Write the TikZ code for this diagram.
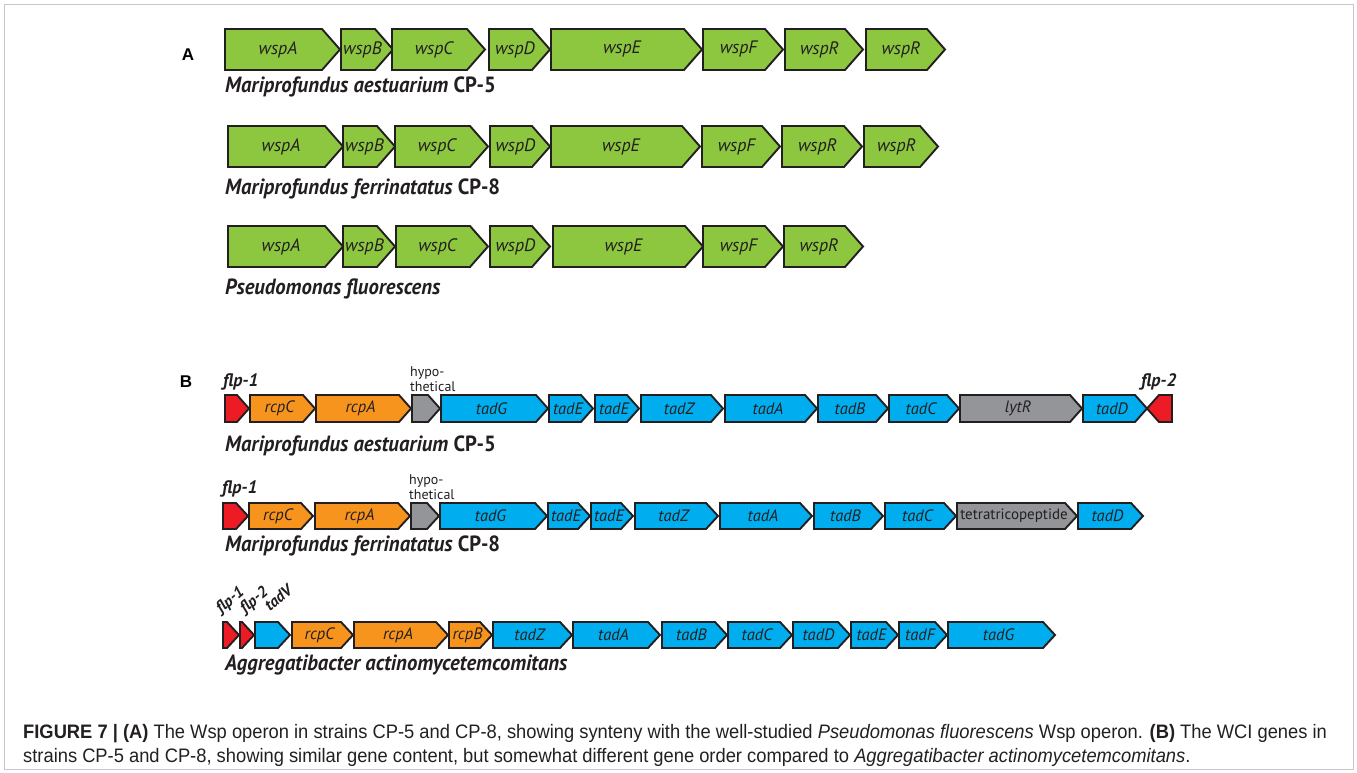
\documentclass[tikz,border=0pt]{standalone}
\usepackage{fontspec}
\setmainfont{Liberation Sans}
\newfontfamily\genefont{PT Sans}
\newfontfamily\orgfont[FakeStretch=0.94]{PT Sans}
\newfontfamily\capfont[FakeStretch=0.94]{Liberation Sans}

\definecolor{wspgreen}{RGB}{141,198,63}
\definecolor{tadblue}{RGB}{0,174,239}
\definecolor{rcporange}{RGB}{247,148,29}
\definecolor{flpred}{RGB}{237,28,36}
\definecolor{hypgray}{RGB}{147,149,152}
\definecolor{inkdark}{RGB}{35,31,32}

\def\rowtop{0}
\def\rowbot{0}
\def\headlen{18}
% \gene{name}{colour}{left}{tip}{label}
\newcommand{\gene}[5]{%
  \draw[gene box,fill=#2] (#3,\rowtop) -- ({#4-\headlen},\rowtop) -- (#4,{(\rowtop+\rowbot)/2})
    -- ({#4-\headlen},\rowbot) -- (#3,\rowbot) -- cycle;
  \node[gene label] (#1) at ({(#3+#4-\headlen/2)/2},{(\rowtop+\rowbot)/2}) {#5};}
% \revgene{name}{colour}{tip}{right}
\newcommand{\revgene}[4]{%
  \draw[gene box,fill=#2] (#4,\rowtop) -- ({#3+\headlen},\rowtop) -- (#3,{(\rowtop+\rowbot)/2})
    -- ({#3+\headlen},\rowbot) -- (#4,\rowbot) -- cycle;
  \coordinate (#1) at ({(#3+#4)/2},{(\rowtop+\rowbot)/2});}

\begin{document}
\begin{tikzpicture}[x=1pt,y=-1pt,
  gene box/.style={draw=inkdark,line width=1.9pt,line join=miter},
  gene label/.style={inner sep=0pt,text=inkdark,font=\genefont\itshape\fontsize{18}{18}\selectfont},
  org label/.style={anchor=base west,inner sep=0pt,text=inkdark,font=\orgfont\bfseries\fontsize{22}{22}\selectfont},
  flp label/.style={anchor=base west,inner sep=0pt,text=inkdark,font=\genefont\bfseries\itshape\fontsize{18}{18}\selectfont},
  tilt label/.style={anchor=base west,inner sep=0pt,rotate=40,text=inkdark,font=\genefont\bfseries\itshape\fontsize{16}{16}\selectfont},
  hyp label/.style={anchor=west,inner sep=0pt,align=left,text=inkdark,font=\genefont\fontsize{14}{14.5}\selectfont},
  panel label/.style={inner sep=0pt,text=black,font=\bfseries\fontsize{17}{17}\selectfont},
  cap line/.style={anchor=base west,inner sep=0pt,text=inkdark,font=\capfont\fontsize{19.5}{19.5}\selectfont}]

  \useasboundingbox (0,0) rectangle (1357,773);
  \draw[draw=gray!45,line width=0.8pt] (4,4) rectangle (1353,769);

  % panel A
  \node[panel label] (pA) at (188,55) {A};

  \def\rowtop{29}\def\rowbot{70}
  \gene{a1wspA}{wspgreen}{225}{340}{wspA}
  \gene{a1wspB}{wspgreen}{341}{393}{wspB}
  \gene{a1wspC}{wspgreen}{392}{485}{wspC}
  \gene{a1wspD}{wspgreen}{489}{550}{wspD}
  \gene{a1wspE}{wspgreen}{551}{702}{wspE}
  \gene{a1wspF}{wspgreen}{703}{783}{wspF}
  \gene{a1wspR}{wspgreen}{785}{863}{wspR}
  \gene{a1wspRb}{wspgreen}{866}{945}{wspR}
  \node[org label] (a1org) at (225,93) {\itshape Mariprofundus aestuarium \upshape CP-5};

  \def\rowtop{126}\def\rowbot{167}
  \gene{a2wspA}{wspgreen}{228}{343}{wspA}
  \gene{a2wspB}{wspgreen}{343}{395}{wspB}
  \gene{a2wspC}{wspgreen}{395}{488}{wspC}
  \gene{a2wspD}{wspgreen}{490}{550}{wspD}
  \gene{a2wspE}{wspgreen}{551}{700}{wspE}
  \gene{a2wspF}{wspgreen}{702}{780}{wspF}
  \gene{a2wspR}{wspgreen}{782}{862}{wspR}
  \gene{a2wspRb}{wspgreen}{864}{938}{wspR}
  \node[org label] (a2org) at (225,194) {\itshape Mariprofundus ferrinatatus \upshape CP-8};

  \def\rowtop{226}\def\rowbot{267}
  \gene{a3wspA}{wspgreen}{228}{343}{wspA}
  \gene{a3wspB}{wspgreen}{343}{395}{wspB}
  \gene{a3wspC}{wspgreen}{396}{488}{wspC}
  \gene{a3wspD}{wspgreen}{490}{550}{wspD}
  \gene{a3wspE}{wspgreen}{553}{703}{wspE}
  \gene{a3wspF}{wspgreen}{703}{783}{wspF}
  \gene{a3wspR}{wspgreen}{784}{863}{wspR}
  \node[org label] (a3org) at (225,294) {\itshape Pseudomonas fluorescens};

  % panel B
  \node[panel label] (pB) at (186,382) {B};
  \def\headlen{12}
  \tikzset{gene label/.append style={font=\genefont\itshape\fontsize{16.5}{16.5}\selectfont}}

  \def\rowtop{395}\def\rowbot{422}
  \gene{b1flpA}{flpred}{225}{249}{}
  \gene{b1rcpC}{rcporange}{250}{315}{rcpC}
  \gene{b1rcpA}{rcporange}{316}{411}{rcpA}
  \gene{b1hyp}{hypgray}{412}{440}{}
  \gene{b1tadG}{tadblue}{441}{548}{tadG}
  \gene{b1tadE}{tadblue}{549}{593}{tadE}
  \gene{b1tadEb}{tadblue}{595}{639}{tadE}
  \gene{b1tadZ}{tadblue}{641}{723}{tadZ}
  \gene{b1tadA}{tadblue}{725}{817}{tadA}
  \gene{b1tadB}{tadblue}{818}{888}{tadB}
  \gene{b1tadC}{tadblue}{889}{959}{tadC}
  \gene{b1lytR}{hypgray}{960}{1082}{lytR}
  \gene{b1tadD}{tadblue}{1083}{1147}{tadD}
  \revgene{b1flpB}{flpred}{1147}{1172}
  \node[flp label] (b1flp1) at (223,386) {flp-1};
  \node[flp label] (b1flp2) at (1141,386) {flp-2};
  \node[hyp label] (b1hyptext) at (410,379) {hypo-\\thetical};
  \node[org label] (b1org) at (225,451) {\itshape Mariprofundus aestuarium \upshape CP-5};

  \def\rowtop{503}\def\rowbot{529}
  \gene{b2flpA}{flpred}{223}{248}{}
  \gene{b2rcpC}{rcporange}{249}{313}{rcpC}
  \gene{b2rcpA}{rcporange}{315}{410}{rcpA}
  \gene{b2hyp}{hypgray}{411}{439}{}
  \gene{b2tadG}{tadblue}{440}{547}{tadG}
  \gene{b2tadE}{tadblue}{548}{590}{tadE}
  \gene{b2tadEb}{tadblue}{591}{633}{tadE}
  \gene{b2tadZ}{tadblue}{635}{718}{tadZ}
  \gene{b2tadA}{tadblue}{720}{812}{tadA}
  \gene{b2tadB}{tadblue}{814}{883}{tadB}
  \gene{b2tadC}{tadblue}{885}{956}{tadC}
  \gene{b2tpr}{hypgray}{957}{1077}{\upshape\fontsize{15}{15}\selectfont tetratricopeptide}
  \gene{b2tadD}{tadblue}{1078}{1143}{tadD}
  \node[flp label] (b2flp1) at (222,493) {flp-1};
  \node[hyp label] (b2hyptext) at (409,487) {hypo-\\thetical};
  \node[org label] (b2org) at (225,551) {\itshape Mariprofundus ferrinatatus \upshape CP-8};

  \def\rowtop{622}\def\rowbot{648}
  \gene{b3flpA}{flpred}{223}{239}{}
  \gene{b3flpB}{flpred}{240}{254}{}
  \gene{b3tadV}{tadblue}{255}{290}{}
  \gene{b3rcpC}{rcporange}{292}{353}{rcpC}
  \gene{b3rcpA}{rcporange}{354}{448}{rcpA}
  \gene{b3rcpB}{rcporange}{449}{492}{rcpB}
  \gene{b3tadZ}{tadblue}{493}{572}{tadZ}
  \gene{b3tadA}{tadblue}{573}{660}{tadA}
  \gene{b3tadB}{tadblue}{662}{727}{tadB}
  \gene{b3tadC}{tadblue}{728}{792}{tadC}
  \gene{b3tadD}{tadblue}{793}{850}{tadD}
  \gene{b3tadE}{tadblue}{851}{898}{tadE}
  \gene{b3tadF}{tadblue}{899}{947}{tadF}
  \gene{b3tadG}{tadblue}{948}{1055}{tadG}
  \node[tilt label] (b3flp1) at (221,614) {flp-1};
  \node[tilt label] (b3flp2) at (245,614) {flp-2};
  \node[tilt label] (b3tadVtext) at (270,612) {tadV};
  \node[org label] (b3org) at (225,670) {\itshape Aggregatibacter actinomycetemcomitans};

  % caption
  \node[cap line] (cap1) at (23,738) {\textbf{FIGURE 7 | (A)} The Wsp operon in strains CP-5 and CP-8, showing synteny with the well-studied \textit{Pseudomonas fluorescens} Wsp operon. \textbf{(B)} The WCI genes in};
  \node[cap line] (cap2) at (23,762) {strains CP-5 and CP-8, showing similar gene content, but somewhat different gene order compared to \textit{Aggregatibacter actinomycetemcomitans}.};
\end{tikzpicture}
\end{document}
